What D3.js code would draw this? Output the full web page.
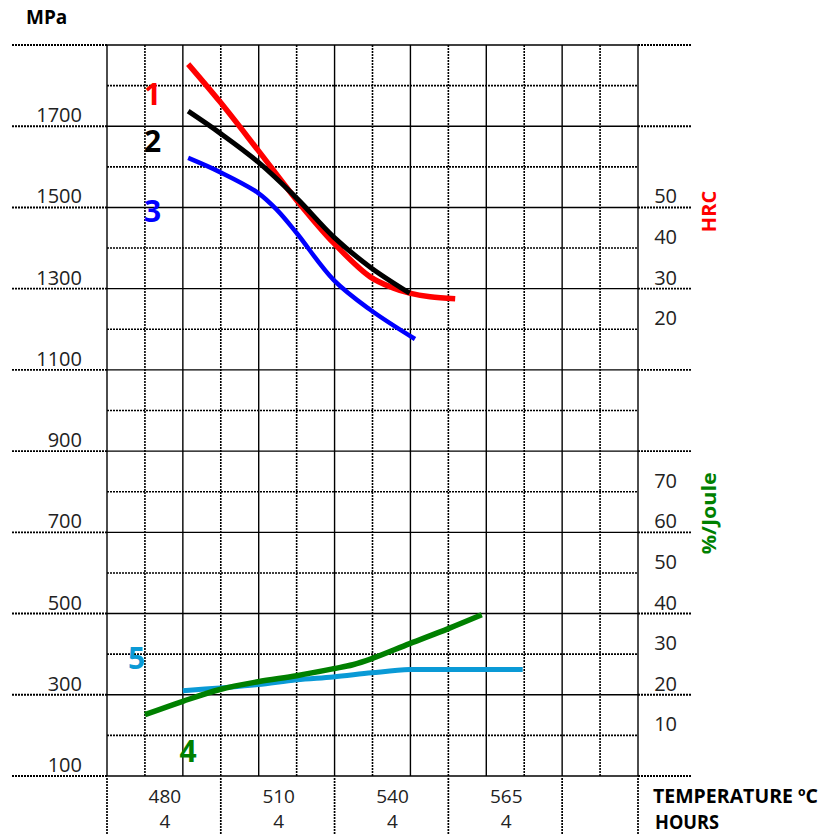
<!DOCTYPE html>
<html>
<head>
<meta charset="utf-8">
<script src="https://cdn.jsdelivr.net/npm/d3@7"></script>
<style>
  body { margin: 0; background: #fff; }
  svg { display: block; font-family: "Open Sans", sans-serif; }
</style>
</head>
<body>
<svg id="chart" width="821" height="835"></svg>
<script>
// Left axis (MPa) tick labels
const mpaTicks = [1700, 1500, 1300, 1100, 900, 700, 500, 300, 100];
// Right axes tick labels
const hrcTicks = [50, 40, 30, 20];
const jouleTicks = [70, 60, 50, 40, 30, 20, 10];
// x axis: temperature / hours, placed at grid-column positions
const tempLabels = ["480", "510", "540", "565"];
const hourLabels = ["4", "4", "4", "4"];
const labelCols = [0.75, 2.25, 3.75, 5.25];
const separatorCols = [0, 1.5, 3, 4.5, 6, 7];

// curves, x in grid columns
const curve1 = [ // red, MPa
    { x: 1.07, v: 1853 }, { x: 1.49, v: 1760 }, { x: 1.99, v: 1641 },
    { x: 2.5, v: 1518 }, { x: 2.99, v: 1412 }, { x: 3.47, v: 1329 },
    { x: 3.77, v: 1302 }, { x: 3.99, v: 1289 }, { x: 4.26, v: 1280 },
    { x: 4.59, v: 1275 }
];
const curve2 = [ // black, MPa
    { x: 1.07, v: 1737 }, { x: 1.49, v: 1683 }, { x: 1.99, v: 1612 },
    { x: 2.5, v: 1523 }, { x: 2.99, v: 1427 }, { x: 3.47, v: 1353 },
    { x: 3.99, v: 1289 }
];
const curve3 = [ // blue, MPa
    { x: 1.07, v: 1622 }, { x: 1.49, v: 1587 }, { x: 1.99, v: 1536 },
    { x: 2.24, v: 1494 }, { x: 2.5, v: 1437 }, { x: 2.99, v: 1321 },
    { x: 3.47, v: 1248 }, { x: 4.06, v: 1176 }
];
const curve4 = [ // green, %/Joule
    { x: 0.5, v: 15.1 }, { x: 1.0, v: 18.4 }, { x: 1.49, v: 21.3 },
    { x: 1.99, v: 23.2 }, { x: 2.5, v: 24.7 }, { x: 2.98, v: 26.4 },
    { x: 3.24, v: 27.4 }, { x: 3.49, v: 28.9 }, { x: 3.99, v: 32.6 },
    { x: 4.5, v: 36.3 }, { x: 4.94, v: 39.7 }
];
const curve5 = [ // light blue, %/Joule
    { x: 1.0, v: 21.0 }, { x: 1.49, v: 21.7 }, { x: 1.99, v: 22.5 },
    { x: 2.5, v: 23.7 }, { x: 2.98, v: 24.4 }, { x: 3.49, v: 25.4 },
    { x: 3.99, v: 26.2 }, { x: 4.5, v: 26.2 }, { x: 5.48, v: 26.2 }
];

const svg = d3.select("#chart");
const plotLeft = 107, plotRight = 638, plotTop = 45, plotBottom = 776;

const x = d3.scaleLinear().domain([0, 7]).range([plotLeft, plotRight]);
const yMpa = d3.scaleLinear().domain([100, 1900]).range([plotBottom, plotTop]);
// HRC and %/Joule share the same pitch: 10 units = 100 MPa
const yHrc = d3.scaleLinear().domain([-90, 90]).range([plotBottom, plotTop]);
const yJoule = d3.scaleLinear().domain([0, 180]).range([plotBottom, plotTop]);

const dotted = "2,1";
const grid = svg.append("g");

// minor dotted grid
grid.selectAll(".hminor")
    .data(d3.range(200, 1900, 200))
    .enter().append("line")
    .attr("x1", plotLeft).attr("x2", plotRight)
    .attr("y1", d => yMpa(d)).attr("y2", d => yMpa(d))
    .attr("stroke", "#000").attr("stroke-width", 1.6)
    .attr("stroke-dasharray", dotted);

grid.selectAll(".vminor")
    .data(d3.range(0.5, 7, 1))
    .enter().append("line")
    .attr("x1", d => x(d)).attr("x2", d => x(d))
    .attr("y1", plotTop).attr("y2", plotBottom)
    .attr("stroke", "#000").attr("stroke-width", 1.6)
    .attr("stroke-dasharray", dotted);

// major solid grid
grid.selectAll(".hmajor")
    .data(d3.range(100, 2000, 200))
    .enter().append("line")
    .attr("x1", plotLeft).attr("x2", plotRight)
    .attr("y1", d => yMpa(d)).attr("y2", d => yMpa(d))
    .attr("stroke", "#000").attr("stroke-width", 1.4);

grid.selectAll(".vmajor")
    .data(d3.range(0, 8, 1))
    .enter().append("line")
    .attr("x1", d => x(d)).attr("x2", d => x(d))
    .attr("y1", plotTop).attr("y2", plotBottom)
    .attr("stroke", "#000").attr("stroke-width", 1.4);

// dotted extensions outside the plot
grid.selectAll(".lext")
    .data(d3.range(100, 2000, 200))
    .enter().append("line")
    .attr("x1", 12).attr("x2", plotLeft)
    .attr("y1", d => yMpa(d)).attr("y2", d => yMpa(d))
    .attr("stroke", "#000").attr("stroke-width", 1.9)
    .attr("stroke-dasharray", "2,1");

grid.selectAll(".rext")
    .data(d3.range(100, 2000, 200))
    .enter().append("line")
    .attr("x1", plotRight).attr("x2", 691)
    .attr("y1", d => yMpa(d)).attr("y2", d => yMpa(d))
    .attr("stroke", "#000").attr("stroke-width", 1.9)
    .attr("stroke-dasharray", "2,1");

grid.selectAll(".bext")
    .data(separatorCols)
    .enter().append("line")
    .attr("x1", d => x(d)).attr("x2", d => x(d))
    .attr("y1", plotBottom + 2).attr("y2", 835)
    .attr("stroke", "#000").attr("stroke-width", 1.7)
    .attr("stroke-dasharray", "2,1");

// tick labels
svg.selectAll(".mpa")
    .data(mpaTicks)
    .enter().append("text")
    .attr("x", 82).attr("y", d => yMpa(d) - 4)
    .attr("text-anchor", "end")
    .attr("font-size", "20px").attr("fill", "#222")
    .text(d => d);

svg.selectAll(".hrc")
    .data(hrcTicks)
    .enter().append("text")
    .attr("x", 677).attr("y", d => yHrc(d) - 4)
    .attr("text-anchor", "end")
    .attr("font-size", "20px").attr("fill", "#222")
    .text(d => d);

svg.selectAll(".joule")
    .data(jouleTicks)
    .enter().append("text")
    .attr("x", 677).attr("y", d => yJoule(d) - 4)
    .attr("text-anchor", "end")
    .attr("font-size", "20px").attr("fill", "#222")
    .text(d => d);

svg.selectAll(".temp")
    .data(tempLabels)
    .enter().append("text")
    .attr("x", (d, i) => x(labelCols[i]) + 1).attr("y", 803)
    .attr("text-anchor", "middle")
    .attr("font-size", "19px").attr("fill", "#222")
    .text(d => d);

svg.selectAll(".hours")
    .data(hourLabels)
    .enter().append("text")
    .attr("x", (d, i) => x(labelCols[i]) + 1).attr("y", 828)
    .attr("text-anchor", "middle")
    .attr("font-size", "19px").attr("fill", "#222")
    .text(d => d);

// axis titles
svg.append("text")
    .attr("x", 26).attr("y", 24)
    .attr("font-size", "19px").attr("font-weight", "bold")
    .text("MPa");

svg.append("text")
    .attr("x", 653).attr("y", 803)
    .attr("font-size", "20px").attr("font-weight", "bold")
    .attr("textLength", 165).attr("lengthAdjust", "spacingAndGlyphs")
    .text("TEMPERATURE ºC");

svg.append("text")
    .attr("x", 655).attr("y", 829)
    .attr("font-size", "19px").attr("font-weight", "bold")
    .attr("textLength", 64).attr("lengthAdjust", "spacingAndGlyphs")
    .text("HOURS");

svg.append("text")
    .attr("transform", `translate(716, ${yHrc(49)}) rotate(-90)`)
    .attr("text-anchor", "middle")
    .attr("font-size", "20px").attr("font-weight", "bold")
    .attr("fill", "#ff0000")
    .text("HRC");

svg.append("text")
    .attr("transform", `translate(716, ${yJoule(60) - 19}) rotate(-90)`)
    .attr("text-anchor", "middle")
    .attr("font-size", "20px").attr("font-weight", "bold")
    .attr("fill", "#008000")
    .attr("textLength", 82).attr("lengthAdjust", "spacingAndGlyphs")
    .text("%/Joule");

// curves
const lineMpa = d3.line()
    .x(d => x(d.x)).y(d => yMpa(d.v))
    .curve(d3.curveCatmullRom.alpha(0.5));
const lineJoule = d3.line()
    .x(d => x(d.x)).y(d => yJoule(d.v))
    .curve(d3.curveCatmullRom.alpha(0.5));

const curves = [
    { data: curve5, line: lineJoule, color: "#0a9ad6", width: 5 },
    { data: curve4, line: lineJoule, color: "#008000", width: 5.5 },
    { data: curve3, line: lineMpa, color: "#0000ff", width: 4.5 },
    { data: curve1, line: lineMpa, color: "#ff0000", width: 5.5 },
    { data: curve2, line: lineMpa, color: "#000000", width: 5 }
];

svg.selectAll(".curve")
    .data(curves)
    .enter().append("path")
    .attr("fill", "none")
    .attr("stroke", d => d.color)
    .attr("stroke-width", d => d.width)
    .attr("d", d => d.line(d.data));

// curve numbers
const curveLabels = [
    { t: "1", col: 0.6, y: yMpa(1752), color: "#ff0000" },
    { t: "2", col: 0.6, y: yMpa(1637), color: "#000000" },
    { t: "3", col: 0.6, y: yMpa(1464), color: "#0000ff" },
    { t: "5", col: 0.39, y: yJoule(26.3), color: "#0a9ad6" },
    { t: "4", col: 1.07, y: yJoule(3.4), color: "#008000" }
];

svg.selectAll(".clabel")
    .data(curveLabels)
    .enter().append("text")
    .attr("x", d => x(d.col)).attr("y", d => d.y)
    .attr("text-anchor", "middle")
    .attr("font-size", "30px").attr("font-weight", "bold")
    .attr("fill", d => d.color)
    .text(d => d.t);
</script>
</body>
</html>
